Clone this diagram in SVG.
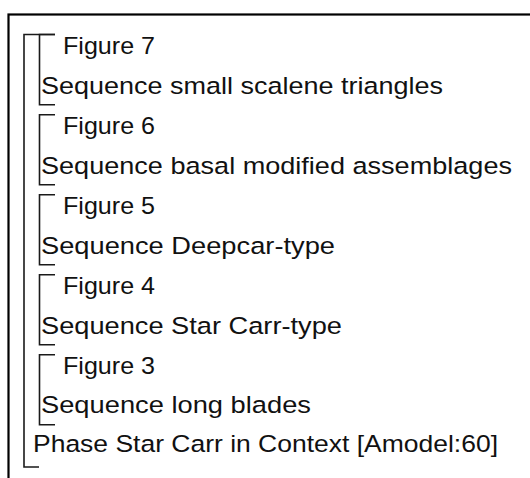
<svg xmlns="http://www.w3.org/2000/svg" width="530" height="478" viewBox="0 0 530 478">
<style>
text{font-family:"Liberation Sans",Arial,sans-serif;font-size:24.5px;fill:#111}
.br{fill:none;stroke:#1a1a1a;stroke-width:1.6}
</style>
<rect width="530" height="478" fill="#fff"/>
<rect x="8.5" y="14.5" width="540" height="480" fill="none" stroke="#000" stroke-width="2.2"/>
<g id="connectors">
<path class="br" d="M55,34.5 H24 V467 H39"/>
<path class="br" d="M55,34.5 H39.5 V104.7 H55"/>
<path class="br" d="M55,114.7 H39.5 V184.7 H55"/>
<path class="br" d="M55,194.7 H39.5 V264.7 H55"/>
<path class="br" d="M55,274.7 H39.5 V344.7 H55"/>
<path class="br" d="M55,354.7 H39.5 V424.7 H55"/>
</g>
<g id="fig7"><text x="63" y="54" textLength="92" lengthAdjust="spacingAndGlyphs">Figure 7</text></g>
<g id="seq7"><text x="41" y="94" textLength="402" lengthAdjust="spacingAndGlyphs">Sequence small scalene triangles</text></g>
<g id="fig6"><text x="63" y="134" textLength="92" lengthAdjust="spacingAndGlyphs">Figure 6</text></g>
<g id="seq6"><text x="41" y="174" textLength="471" lengthAdjust="spacingAndGlyphs">Sequence basal modified assemblages</text></g>
<g id="fig5"><text x="63" y="214" textLength="92" lengthAdjust="spacingAndGlyphs">Figure 5</text></g>
<g id="seq5"><text x="41" y="254" textLength="294" lengthAdjust="spacingAndGlyphs">Sequence Deepcar-type</text></g>
<g id="fig4"><text x="63" y="294" textLength="92" lengthAdjust="spacingAndGlyphs">Figure 4</text></g>
<g id="seq4"><text x="41" y="334" textLength="301" lengthAdjust="spacingAndGlyphs">Sequence Star Carr-type</text></g>
<g id="fig3"><text x="63" y="374" textLength="92" lengthAdjust="spacingAndGlyphs">Figure 3</text></g>
<g id="seq3"><text x="41" y="413" textLength="270" lengthAdjust="spacingAndGlyphs">Sequence long blades</text></g>
<g id="phase"><text x="33" y="452" textLength="465" lengthAdjust="spacingAndGlyphs">Phase Star Carr in Context [Amodel:60]</text></g>
</svg>
